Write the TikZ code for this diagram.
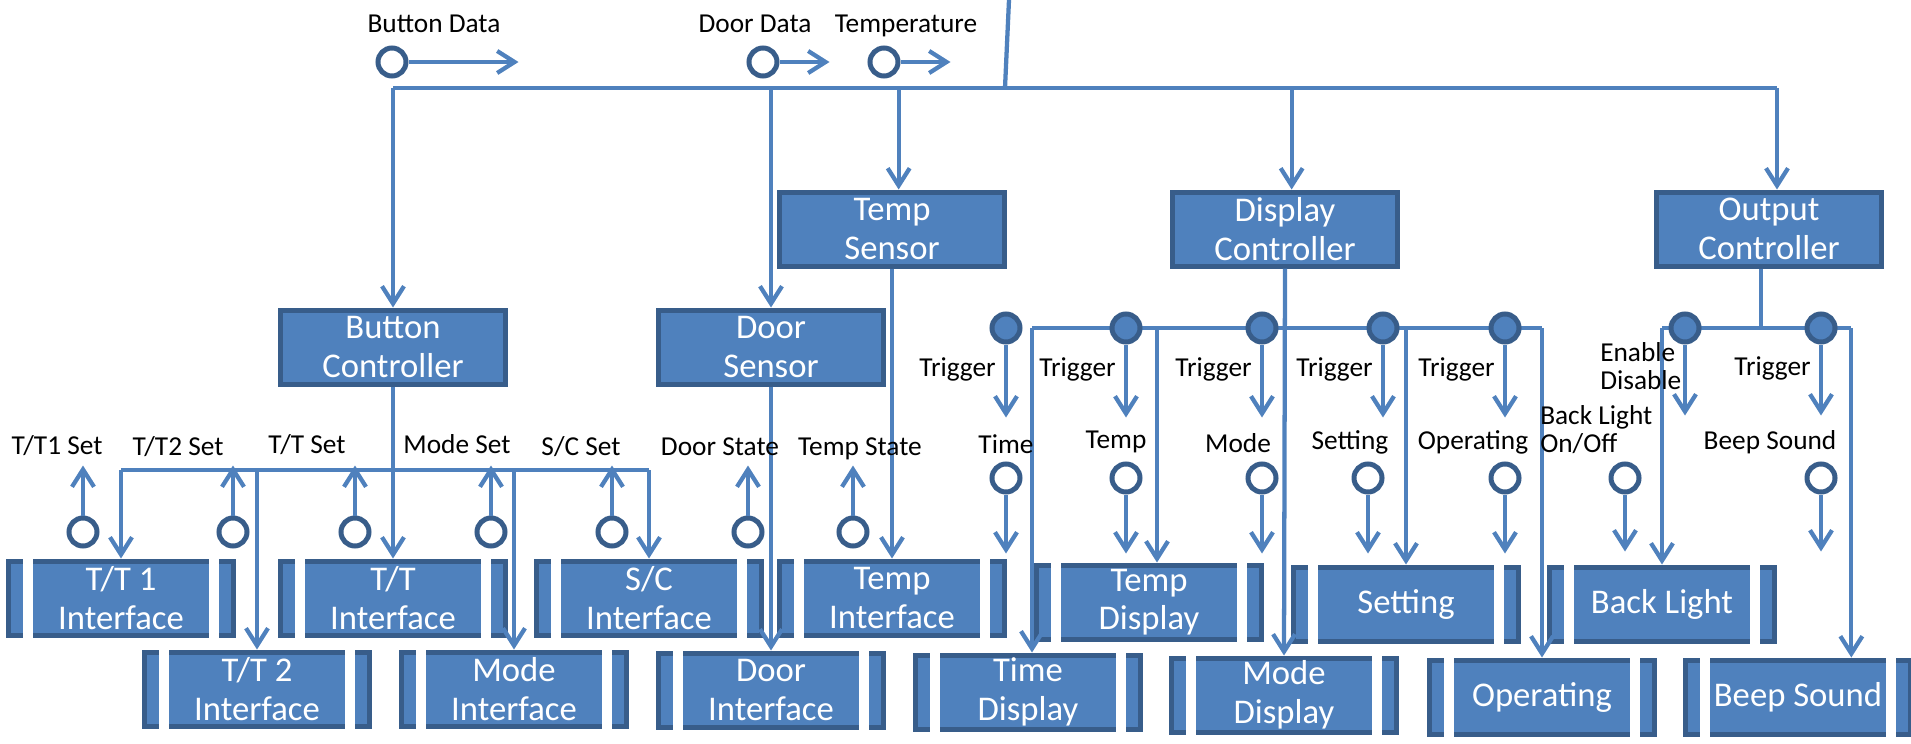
\documentclass[tikz,border=0pt]{standalone}
\usepackage{fontspec}
\setmainfont{Carlito}
\usetikzlibrary{arrows.meta}
\definecolor{boxblue}{HTML}{4F81BD}
\definecolor{edgeblue}{HTML}{385D8A}
\tikzset{
  unit/.style={rectangle, fill=boxblue, draw=edgeblue, line width=3.75pt, text=white, align=center,
    inner sep=0pt, minimum width=168.75pt, minimum height=55.5pt, font=\fontsize{26}{29}\selectfont},
  flow/.style={draw=boxblue, line width=3.2pt, -{Straight Barb[length=13pt,width=16.5pt]}},
  wire/.style={draw=boxblue, line width=3.2pt},
  couple/.style={circle, draw=edgeblue, fill=white, line width=3.75pt, minimum size=21pt, inner sep=0pt},
  flag/.style={couple, fill=boxblue},
  lbl/.style={font=\fontsize{20.5}{21}\selectfont, inner sep=0pt},
}
\begin{document}
\begin{tikzpicture}[x=0.75pt, y=-0.75pt]
\useasboundingbox (0,0) rectangle (1911,743);
\node[unit] (tempsen) at (892,229) {Temp\\Sensor};
\node[unit] (dispctl) at (1285,229) {Display\\Controller};
\node[unit] (outctl) at (1769,229) {Output\\Controller};
\node[unit] (btnctl) at (393,347) {Button\\Controller};
\node[unit] (doorsen) at (771,347) {Door\\Sensor};
\node[unit] (tt1if) at (121,598) {T/T 1\\Interface};
\node[unit] (ttif) at (393,598) {T/T\\Interface};
\node[unit] (scif) at (649,598) {S/C\\Interface};
\node[unit] (tempif) at (892,598) {Temp\\Interface};
\node[unit] (tempdisp) at (1149,602) {Temp\\Display};
\node[unit] (setting) at (1406,604) {Setting};
\node[unit] (backlight) at (1662,604) {Back Light};
\node[unit] (tt2if) at (257,689) {T/T 2\\Interface};
\node[unit] (modeif) at (514,689) {Mode\\Interface};
\node[unit] (doorif) at (771,690) {Door\\Interface};
\node[unit] (timedisp) at (1028,692) {Time\\Display};
\node[unit] (modedisp) at (1284,695) {Mode\\Display};
\node[unit] (operating) at (1542,697) {Operating};
\node[unit] (beep) at (1798,697) {Beep Sound};
\foreach \m in {tt1if,ttif,scif,tempif,tempdisp,setting,backlight,tt2if,modeif,doorif,timedisp,modedisp,operating,beep} {
  \fill[white] ([xshift=13pt]\m.north west) rectangle ([xshift=20.5pt]\m.south west);
  \fill[white] ([xshift=-13pt]\m.north east) rectangle ([xshift=-20.5pt]\m.south east);
}
\coordinate (mainin) at (1009,0);
\coordinate (bus) at (1005,88);
\coordinate (btnbus) at (393,470);
\coordinate (dispbus) at (1285,328);
\coordinate (outbus) at (1761,328);
\draw[wire] (mainin) -- (bus);
\draw[wire] (btnctl.north |- bus) -- ([xshift=6pt]outctl.north |- bus);
\draw[flow] (btnctl.north |- bus) -- (btnctl.north);
\draw[flow] (doorsen.north |- bus) -- (doorsen.north);
\draw[flow] ([xshift=5pt]tempsen.north |- bus) -- ([xshift=5pt]tempsen.north);
\draw[flow] ([xshift=5pt]dispctl.north |- bus) -- ([xshift=5pt]dispctl.north);
\draw[flow] ([xshift=6pt]outctl.north |- bus) -- ([xshift=6pt]outctl.north);
\draw[flow] (btnctl.south) -- (ttif.north);
\draw[wire] (tt1if.north |- btnbus) -- (scif.north |- btnbus);
\draw[flow] (tt1if.north |- btnbus) -- (tt1if.north);
\draw[flow] (tt2if.north |- btnbus) -- (tt2if.north);
\draw[flow] (modeif.north |- btnbus) -- (modeif.north);
\draw[flow] (scif.north |- btnbus) -- (scif.north);
\draw[flow] (doorsen.south) -- (doorif.north);
\draw[flow] (tempsen.south) -- (tempif.north);
\draw[flow] (dispctl.south) -- (modedisp.north);
\draw[wire] ([xshift=3pt]timedisp.north |- dispbus) -- (operating.north |- dispbus);
\draw[flow] ([xshift=3pt]timedisp.north |- dispbus) -- ([xshift=3pt]timedisp.north);
\draw[flow] ([xshift=6pt]tempdisp.north |- dispbus) -- ([xshift=6pt]tempdisp.north);
\draw[flow] (setting.north |- dispbus) -- (setting.north);
\draw[flow] (operating.north |- dispbus) -- (operating.north);
\draw[wire] ([xshift=-6pt]outctl.south) -- ([xshift=-6pt]outctl.south |- outbus);
\draw[wire] (backlight.north |- outbus) -- ([xshift=40pt]beep.north |- outbus);
\draw[flow] (backlight.north |- outbus) -- (backlight.north);
\draw[flow] ([xshift=40pt]beep.north |- outbus) -- ([xshift=40pt]beep.north);
\node[couple] (btndata) at (392,62) {};
\node[lbl, anchor=base] (btndatal) at (434,32) {Button Data};
\draw[flow] (btndata.east) -- ++(110,0);
\node[couple] (doordata) at (763,62) {};
\node[lbl, anchor=base] (doordatal) at (755,32) {Door Data};
\draw[flow] (doordata.east) -- ++(50,0);
\node[couple] (tempdata) at (884,62) {};
\node[lbl, anchor=base] (tempdatal) at (906,32) {Temperature};
\draw[flow] (tempdata.east) -- ++(50,0);
\node[couple] (tt1set) at (83,532) {};
\node[lbl, anchor=base] (tt1setl) at (57,454) {T/T1 Set};
\draw[flow] (tt1set.north) -- ++(0,-50);
\node[couple] (tt2set) at (233,532) {};
\node[lbl, anchor=base] (tt2setl) at (178,455) {T/T2 Set};
\draw[flow] (tt2set.north) -- ++(0,-50);
\node[couple] (ttset) at (355,532) {};
\node[lbl, anchor=base] (ttsetl) at (307,453) {T/T Set};
\draw[flow] (ttset.north) -- ++(0,-50);
\node[couple] (modeset) at (491,532) {};
\node[lbl, anchor=base] (modesetl) at (457,453) {Mode Set};
\draw[flow] (modeset.north) -- ++(0,-50);
\node[couple] (scset) at (612,532) {};
\node[lbl, anchor=base] (scsetl) at (581,455) {S/C Set};
\draw[flow] (scset.north) -- ++(0,-50);
\node[couple] (doorstate) at (748,532) {};
\node[lbl, anchor=base] (doorstatel) at (720,455) {Door State};
\draw[flow] (doorstate.north) -- ++(0,-50);
\node[couple] (tempstate) at (853,532) {};
\node[lbl, anchor=base] (tempstatel) at (860,455) {Temp State};
\draw[flow] (tempstate.north) -- ++(0,-50);
\node[flag] (timetrg) at (1006,328) {};
\node[lbl, anchor=base east] (timetrgl) at (996,376) {Trigger};
\draw[flow] (timetrg.south) -- ++(0,73);
\node[lbl, anchor=base] (timel) at (1006,453) {Time};
\node[couple] (timedat) at (1006,478) {};
\draw[flow] (timedat.south) -- ++(0,59);
\node[flag] (temptrg) at (1126,328) {};
\node[lbl, anchor=base east] (temptrgl) at (1116,376) {Trigger};
\draw[flow] (temptrg.south) -- ++(0,73);
\node[lbl, anchor=base] (templ) at (1116,448) {Temp};
\node[couple] (tempdat) at (1126,478) {};
\draw[flow] (tempdat.south) -- ++(0,59);
\node[flag] (modetrg) at (1262,328) {};
\node[lbl, anchor=base east] (modetrgl) at (1252,376) {Trigger};
\draw[flow] (modetrg.south) -- ++(0,73);
\node[lbl, anchor=base] (model) at (1238,452) {Mode};
\node[couple] (modedat) at (1262,478) {};
\draw[flow] (modedat.south) -- ++(0,59);
\node[flag] (settrg) at (1383,328) {};
\node[lbl, anchor=base east] (settrgl) at (1373,376) {Trigger};
\draw[flow] (settrg.south) -- ++(0,73);
\node[lbl, anchor=base] (setl) at (1350,449) {Setting};
\node[couple] (setdat) at (1368,478) {};
\draw[flow] (setdat.south) -- ++(0,59);
\node[flag] (optrg) at (1505,328) {};
\node[lbl, anchor=base east] (optrgl) at (1495,376) {Trigger};
\draw[flow] (optrg.south) -- ++(0,73);
\node[lbl, anchor=base] (opl) at (1473,449) {Operating};
\node[couple] (opdat) at (1505,478) {};
\draw[flow] (opdat.south) -- ++(0,59);
\node[flag] (bltrg) at (1685,328) {};
\node[lbl, align=left, anchor=west] (bltrgl) at (1600,366) {Enable\\Disable};
\draw[flow] (bltrg.south) -- ++(0,71);
\node[lbl, align=left, anchor=west] (bll) at (1540,430) {Back Light\\On/Off};
\node[couple] (bldat) at (1625,478) {};
\draw[flow] (bldat.south) -- ++(0,57);
\node[flag] (beeptrg) at (1821,328) {};
\node[lbl, anchor=base east] (beeptrgl) at (1811,375) {Trigger};
\draw[flow] (beeptrg.south) -- ++(0,71);
\node[lbl, anchor=base] (beepl) at (1770,449) {Beep Sound};
\node[couple] (beepdat) at (1821,478) {};
\draw[flow] (beepdat.south) -- ++(0,57);
\end{tikzpicture}
\end{document}
